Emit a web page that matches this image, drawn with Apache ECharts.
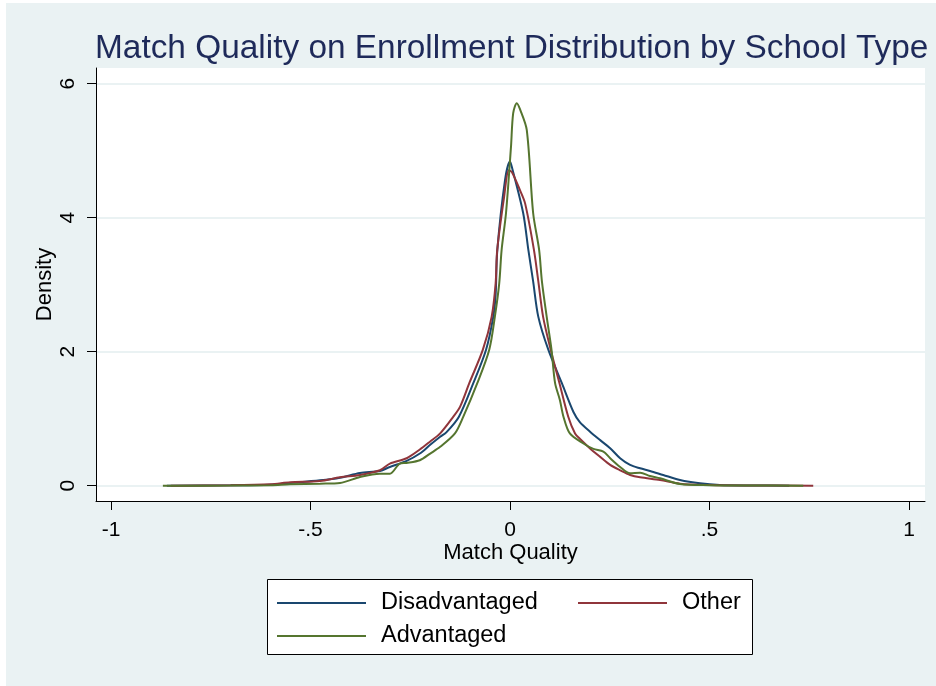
<!DOCTYPE html>
<html>
<head>
<meta charset="utf-8">
<script src="https://cdn.jsdelivr.net/npm/echarts@6/dist/echarts.min.js"></script>
<style>
  html, body { margin: 0; padding: 0; background: #fff; }
  #chart { width: 936px; height: 686px; }
</style>
</head>
<body>
<div id="chart"></div>
<script>
// kernel density curves (x = match quality, y = density)
const disadvX = [-0.86, -0.70, -0.60, -0.55, -0.476, -0.426, -0.376, -0.326, -0.301, -0.259, -0.226, -0.200, -0.175, -0.159, -0.128, -0.092, -0.060, -0.042, -0.036, -0.032, -0.0125, 0.0, 0.005, 0.033, 0.046, 0.058, 0.071, 0.096, 0.130, 0.159, 0.175, 0.200, 0.226, 0.251, 0.276, 0.301, 0.326, 0.351, 0.384, 0.426, 0.476, 0.526, 0.60, 0.70]
const disadvY = [0, 0.005, 0.015, 0.04, 0.08, 0.12, 0.19, 0.22, 0.28, 0.37, 0.48, 0.61, 0.73, 0.80, 1.03, 1.53, 2.03, 2.52, 2.85, 3.5, 4.56, 4.84, 4.75, 4.07, 3.52, 3.05, 2.52, 2.03, 1.53, 1.10, 0.95, 0.81, 0.68, 0.56, 0.41, 0.31, 0.26, 0.22, 0.16, 0.085, 0.035, 0.01, 0.003, 0]

const otherX = [-0.85, -0.70, -0.60, -0.551, -0.476, -0.426, -0.376, -0.326, -0.301, -0.259, -0.226, -0.200, -0.175, -0.142, -0.125, -0.102, -0.068, -0.046, -0.036, -0.032, -0.015, -0.003, 0.005, 0.025, 0.038, 0.060, 0.071, 0.083, 0.102, 0.124, 0.146, 0.163, 0.175, 0.200, 0.226, 0.251, 0.276, 0.301, 0.326, 0.376, 0.426, 0.50, 0.60, 0.76]
const otherY = [0, 0.005, 0.02, 0.05, 0.07, 0.125, 0.16, 0.23, 0.33, 0.41, 0.54, 0.66, 0.78, 1.03, 1.18, 1.53, 2.03, 2.52, 3.02, 3.52, 4.3, 4.71, 4.68, 4.41, 4.21, 3.52, 3.05, 2.52, 2.03, 1.53, 1.03, 0.78, 0.70, 0.56, 0.43, 0.31, 0.23, 0.16, 0.125, 0.085, 0.03, 0.01, 0.003, 0]

const advX = [-0.87, -0.70, -0.60, -0.551, -0.476, -0.426, -0.376, -0.326, -0.301, -0.276, -0.259, -0.226, -0.200, -0.175, -0.138, -0.117, -0.082, -0.052, -0.038, -0.027, -0.021, -0.01, 0.0025, 0.008, 0.017, 0.025, 0.042, 0.058, 0.073, 0.080, 0.092, 0.104, 0.113, 0.125, 0.134, 0.150, 0.184, 0.209, 0.234, 0.251, 0.276, 0.301, 0.326, 0.351, 0.376, 0.426, 0.50, 0.60, 0.735]
const advY = [0, 0.002, 0.008, 0.02, 0.03, 0.04, 0.13, 0.18, 0.18, 0.33, 0.34, 0.38, 0.48, 0.58, 0.78, 1.03, 1.53, 2.03, 2.52, 3.02, 3.52, 4.07, 5.06, 5.56, 5.71, 5.62, 5.31, 4.07, 3.52, 3.05, 2.52, 2.03, 1.53, 1.28, 1.03, 0.78, 0.63, 0.55, 0.51, 0.41, 0.28, 0.185, 0.195, 0.145, 0.11, 0.025, 0.008, 0.003, 0]

const xTicks = [-1, -0.5, 0, 0.5, 1]
const yTicks = [0, 2, 4, 6]
const seriesNames = ['Disadvantaged', 'Other', 'Advantaged']
const seriesColors = ['#1A476F', '#90353B', '#55752F']

const pairs = (xs, ys) => xs.map((x, i) => [x, ys[i]])
const curves = [pairs(disadvX, disadvY), pairs(otherX, otherY), pairs(advX, advY)]

const chart = echarts.init(document.getElementById('chart'))

const legendBase = {
  orient: 'vertical',
  top: 591,
  padding: 0,
  icon: 'rect',
  itemWidth: 89,
  itemHeight: 2,
  itemGap: 9,
  selectedMode: false,
  textStyle: { fontFamily: 'Liberation Sans', fontSize: 23.5, color: '#000', padding: [0, 0, 0, 10], lineHeight: 20 }
}

const option = {
  backgroundColor: '#fff',
  animation: false,
  textStyle: { fontFamily: 'Liberation Sans' },
  title: {
    text: 'Match Quality on Enrollment Distribution by School Type',
    left: 95,
    top: 29,
    padding: 0,
    textStyle: { fontFamily: 'Liberation Sans', fontSize: 33.4, fontWeight: 'normal', color: '#1E2A5A', lineHeight: 40 }
  },
  graphic: [
    { type: 'rect', z: -10, shape: { x: 6, y: 3, width: 930, height: 683 }, style: { fill: '#EAF2F3' } },
    { type: 'rect', z: 1, shape: { x: 267.5, y: 579.5, width: 485, height: 75 }, style: { fill: '#fff', stroke: '#000', lineWidth: 1 } }
  ],
  legend: [
    Object.assign({}, legendBase, { left: 277, data: ['Disadvantaged', 'Advantaged'] }),
    Object.assign({}, legendBase, { left: 578, data: ['Other'] })
  ],
  grid: {
    left: 96, top: 68, width: 829, height: 433,
    show: true, backgroundColor: '#fff', borderWidth: 0
  },
  xAxis: {
    type: 'value',
    min: (96 - 510) / 399,
    max: (925 - 510) / 399,
    name: 'Match Quality',
    nameLocation: 'middle',
    nameGap: 41,
    nameMoveOverlap: false,
    nameTextStyle: { fontSize: 22, color: '#000' },
    axisLine: { show: true, onZero: false, lineStyle: { color: '#000', width: 1 } },
    axisTick: { show: true, length: 9, customValues: xTicks, lineStyle: { color: '#000' } },
    axisLabel: {
      customValues: xTicks, fontSize: 21, color: '#000', margin: 19,
      formatter: v => String(v).replace('0.', '.')
    },
    splitLine: { show: false }
  },
  yAxis: {
    type: 'value',
    min: (485.7 - 501) / 67,
    max: (485.7 - 68) / 67,
    name: 'Density',
    nameLocation: 'middle',
    nameGap: 40,
    nameMoveOverlap: false,
    nameTextStyle: { fontSize: 22, color: '#000' },
    axisLine: { show: true, onZero: false, lineStyle: { color: '#000', width: 1 } },
    axisTick: { show: true, length: 9, customValues: yTicks, lineStyle: { color: '#000' } },
    axisLabel: { customValues: yTicks, fontSize: 21, color: '#000', margin: 17, rotate: 90 },
    splitLine: { show: true, lineStyle: { color: '#EAF2F3', width: 2 } }
  },
  series: curves.map((data, i) => ({
    name: seriesNames[i],
    type: 'line',
    data: data,
    symbol: 'none',
    smooth: 0.3,
    color: seriesColors[i],
    lineStyle: { width: 2, color: seriesColors[i] }
  }))
}

chart.setOption(option)
</script>
</body>
</html>
